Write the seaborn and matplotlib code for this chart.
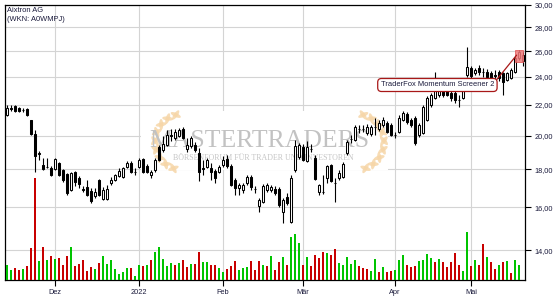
import numpy as np
import pandas as pd
import matplotlib
matplotlib.use("Agg")
import matplotlib.pyplot as plt
import seaborn as sns
from matplotlib.patches import Rectangle, Ellipse
from matplotlib.ticker import FixedLocator, NullLocator

sns.set_theme(style="white")
plt.rcParams["font.family"] = ["Liberation Sans", "DejaVu Sans"]

# ---------------- data ----------------
title_line1 = "Aixtron AG"
title_line2 = "(WKN: A0WMPJ)"
start_date, end_date = "2021-11-15", "2022-05-19"
holidays = ["2021-12-24", "2021-12-31", "2022-04-15", "2022-04-18"]
month_labels = ["Dez", "2022", "Feb", "Mär", "Apr", "Mai"]
price_ticks = [14, 16, 18, 20, 22, 24, 26, 28, 30]
signal_index = 128
signal_label = "TraderFox Momentum Screener 2"
watermark = "MASTERTRADERS"
watermark_sub = "BÖRSENFORUM FÜR TRADER UND INVESTOREN"

opens = [
    21.32, 21.80, 21.92, 21.78, 21.67, 21.72, 20.99, 20.09, 18.90, 18.25,
    18.14, 18.08, 18.03, 18.37, 17.97, 17.75, 16.89, 17.85, 17.53, 16.95,
    17.05, 16.84, 16.58, 17.42, 16.42, 16.42, 17.26, 17.42, 17.64, 17.58,
    18.14, 18.37, 17.88, 18.14, 18.60, 18.20, 17.69, 17.97, 19.30, 19.12,
    19.42, 20.03, 19.85, 19.97, 20.42, 19.18, 19.36, 19.42, 18.95, 18.10,
    18.14, 18.08, 17.91, 17.85, 18.25, 18.60, 18.20, 17.42, 17.00, 16.89,
    17.26, 17.58, 16.95, 16.07, 16.27, 16.89, 16.89, 16.95, 16.95, 15.77,
    16.52, 15.30, 17.97, 18.72, 19.30, 18.48, 19.18, 18.66, 16.78, 16.80,
    17.53, 18.25, 17.28, 17.53, 17.58, 18.95, 19.78, 19.73, 20.40, 20.42,
    20.15, 20.09, 20.55, 20.40, 20.67, 20.80, 20.67, 20.05, 20.21, 20.99,
    21.38, 20.99, 21.12, 20.03, 20.15, 20.99, 21.99, 22.48, 22.69, 23.19,
    23.04, 22.83, 22.83, 22.36, 22.48, 24.14, 24.67, 24.29, 24.67, 24.37,
    24.37, 24.30, 24.14, 24.37, 24.29, 23.77, 23.92, 24.37, 25.45, 25.20]
closes = [
    21.78, 21.75, 21.58, 21.58, 21.63, 21.32, 20.09, 18.77, 18.95, 18.03,
    18.12, 17.69, 18.60, 17.69, 17.42, 16.73, 17.80, 17.31, 17.20, 16.90,
    16.63, 16.32, 16.78, 16.63, 16.89, 16.95, 17.42, 17.69, 17.91, 18.08,
    18.37, 17.85, 17.85, 18.54, 17.85, 17.85, 17.85, 18.54, 18.54, 19.48,
    20.03, 19.97, 20.21, 20.35, 19.85, 19.42, 19.85, 19.12, 17.85, 18.05,
    18.54, 17.85, 17.53, 18.14, 18.54, 18.20, 17.15, 17.00, 17.15, 17.15,
    17.58, 17.05, 16.92, 16.37, 17.10, 17.15, 17.05, 16.73, 16.12, 16.37,
    16.22, 17.53, 19.36, 19.42, 18.54, 19.30, 19.20, 17.47, 17.15, 16.78,
    18.20, 17.37, 17.26, 17.80, 18.31, 19.60, 19.80, 20.55, 20.42, 20.44,
    20.55, 20.55, 20.52, 20.80, 20.99, 20.21, 20.03, 20.03, 21.12, 21.45,
    20.86, 20.67, 19.54, 20.67, 21.85, 22.48, 22.69, 23.26, 23.26, 22.69,
    22.69, 22.48, 22.33, 22.33, 23.04, 24.75, 24.07, 24.52, 24.37, 24.35,
    24.00, 23.77, 24.10, 23.92, 23.62, 24.29, 24.52, 25.45, 25.90, 25.69]
highs = [
    21.99, 21.99, 21.99, 21.85, 21.78, 21.78, 20.99, 20.35, 19.07, 18.66,
    18.66, 18.20, 18.66, 18.43, 18.03, 17.80, 17.85, 17.91, 17.64, 17.10,
    17.42, 16.99, 16.99, 17.47, 17.05, 17.15, 17.58, 17.75, 18.08, 18.14,
    18.48, 18.48, 18.08, 18.66, 18.66, 18.31, 17.97, 18.66, 19.42, 19.97,
    20.35, 20.42, 20.42, 20.48, 20.55, 19.85, 19.97, 19.60, 19.24, 18.54,
    18.66, 18.37, 18.03, 18.25, 18.77, 18.83, 18.31, 17.53, 17.26, 17.26,
    17.69, 17.69, 17.10, 16.47, 17.20, 17.26, 17.15, 17.10, 17.05, 16.47,
    16.73, 17.69, 19.73, 19.54, 19.48, 19.67, 19.48, 18.83, 17.20, 17.69,
    18.25, 18.31, 17.53, 17.97, 18.43, 19.73, 20.03, 20.67, 20.67, 20.67,
    20.74, 20.67, 21.12, 20.99, 21.19, 20.93, 20.80, 20.21, 21.32, 21.58,
    21.52, 21.12, 21.25, 20.80, 21.99, 22.62, 22.83, 24.37, 23.55, 23.33,
    23.19, 22.97, 22.97, 22.69, 23.19, 26.35, 24.82, 24.67, 24.90, 24.67,
    24.60, 24.45, 24.52, 24.52, 24.40, 24.40, 24.67, 25.60, 26.10, 25.95]
lows = [
    21.25, 21.58, 21.52, 21.52, 21.52, 21.25, 20.03, 17.85, 18.54, 17.97,
    18.08, 17.64, 17.97, 17.64, 17.31, 16.63, 16.84, 17.10, 16.99, 16.78,
    16.58, 16.22, 16.47, 16.58, 16.37, 16.37, 17.15, 17.37, 17.58, 17.53,
    18.08, 17.80, 17.69, 18.08, 17.80, 17.80, 17.53, 17.85, 18.48, 19.00,
    19.36, 19.67, 19.73, 19.91, 19.79, 19.00, 19.24, 19.00, 17.37, 17.69,
    18.08, 17.42, 17.26, 17.80, 18.14, 18.08, 17.10, 16.63, 16.63, 16.73,
    17.15, 16.89, 16.73, 15.77, 16.22, 16.78, 16.78, 16.63, 16.02, 15.25,
    16.12, 15.25, 17.85, 18.60, 18.48, 18.43, 19.00, 17.42, 16.63, 16.68,
    17.26, 17.31, 16.27, 17.42, 17.53, 18.83, 19.54, 19.67, 20.15, 20.21,
    20.03, 19.97, 20.03, 20.28, 20.55, 20.15, 19.97, 19.85, 20.15, 20.93,
    20.74, 20.55, 19.42, 19.91, 20.09, 20.93, 21.85, 22.40, 22.55, 22.55,
    22.62, 22.27, 22.10, 21.85, 22.41, 24.00, 23.92, 24.14, 24.14, 24.00,
    23.85, 23.60, 23.40, 23.70, 22.70, 23.70, 23.85, 24.30, 25.30, 24.80]
# relative volume (the last, current day has no volume bar)
volume = [
    15, 10, 12, 10, 11, 14, 32, 102, 19, 33,
    20, 24, 21, 22, 15, 24, 33, 14, 16, 20,
    9, 13, 11, 17, 24, 16, 20, 11, 6, 8,
    12, 12, 4, 15, 14, 15, 20, 28, 33, 21,
    14, 17, 15, 17, 20, 13, 16, 16, 28, 18,
    18, 15, 15, 12, 8, 11, 14, 19, 10, 12,
    13, 19, 10, 19, 15, 14, 24, 10, 18, 23,
    15, 43, 46, 37, 15, 23, 14, 25, 22, 28,
    27, 25, 31, 17, 15, 23, 16, 20, 14, 12,
    11, 9, 21, 8, 13, 8, 9, 10, 20, 25,
    15, 13, 14, 19, 20, 26, 22, 18, 21, 18,
    13, 18, 27, 15, 9, 48, 14, 20, 15, 36,
    23, 18, 11, 15, 18, 19, 7, 20, 15, np.nan]
volume_dir = ("ggrrgrrrgr" "grgrrrgrrr" "rrgrgggggg" "grggrgrggg" "ggrgrrgrrg"
              "grrggrrrgg" "grrrgrgrrg" "rgggrgrrrr" "grrgggggrr" "rggrgrrggg"
              "rrrggggrgr" "rrrrggrgrr" "grrgrgrggg")

# ---------------- derived ----------------
dates = pd.bdate_range(start_date, end_date)
dates = dates[~dates.isin(pd.to_datetime(holidays))]
n = len(dates)
idx = np.arange(n)
o, c, h, l = map(np.asarray, (opens, closes, highs, lows))
month_pos = [i for i in range(1, n) if dates[i].month != dates[i - 1].month]

TXT = "#1b1b3c"
W, H = 555, 300
fig = plt.figure(figsize=(W / 100, H / 100), dpi=100)
rect = [5 / W, 20 / H, 520 / W, 275 / H]
ax = fig.add_axes(rect, zorder=1)
axv = fig.add_axes(rect, zorder=2)
axv.patch.set_alpha(0)

# price axis
ax.set_facecolor("white")
ax.set_yscale("log")
ax.set_ylim(12.77, 30)
ax.set_xlim(-0.5, n - 0.5)
ax.yaxis.set_major_locator(FixedLocator(price_ticks))
ax.yaxis.set_minor_locator(NullLocator())
ax.yaxis.set_ticklabels([f"{t:.2f}".replace(".", ",") for t in price_ticks])
ax.yaxis.tick_right()
ax.set_xticks(month_pos)
ax.set_xticklabels(month_labels)
ax.tick_params(axis="y", which="major", direction="out", length=4, width=0.8,
               color="black", pad=3, labelsize=5.3, labelcolor=TXT,
               right=True, left=False, labelright=True, labelleft=False)
ax.tick_params(axis="x", direction="out", length=4, width=0.8, color="black",
               pad=2.5, labelsize=5.3, labelcolor=TXT, bottom=True)
ax.grid(True, color="#d4d4d4", lw=0.8)
ax.set_axisbelow(True)
for s in ax.spines.values():
    s.set_visible(True)
    s.set_color("black")
    s.set_linewidth(0.9)

# watermark (opaque box hides grid)
ax.add_patch(Rectangle((0.262, 0.40), 0.475, 0.215, transform=ax.transAxes,
                       facecolor="white", edgecolor="none", zorder=1.2))
ax.text(0.49, 0.505, watermark, transform=ax.transAxes, ha="center", va="center",
        fontsize=18.5, color="#c2c2c2", family=["Liberation Serif", "DejaVu Serif"], zorder=1.5)
ax.text(0.497, 0.443, watermark_sub, transform=ax.transAxes, ha="center", va="center",
        fontsize=5.7, color="#c4c4c4", family=["Liberation Serif", "DejaVu Serif"], zorder=1.5)


def laurel(cx, cy, mirror):
    sgn = -1 if mirror else 1
    for th in np.linspace(105, 250, 9):
        t = np.deg2rad(th)
        px = cx + sgn * 0.28 * np.cos(t)
        py = cy + 0.28 * np.sin(t)
        tang = th + 90
        for off in (-40, 40):
            ang = tang + off
            if mirror:
                ang = 180 - ang
            ax.add_patch(Ellipse((px, py), 0.11, 0.04, angle=ang,
                                 transform=fig.dpi_scale_trans, facecolor="#f6d6a8",
                                 edgecolor="none", alpha=0.85, zorder=1.4))


laurel(1.83, 1.58, False)
laurel(3.56, 1.58, True)

# candles
up = c >= o
ax.vlines(idx, l, h, color="black", lw=0.8, zorder=3)
ax.bar(idx, np.abs(c - o), bottom=np.minimum(o, c), width=0.6,
       color=np.where(up, "white", "black"), edgecolor="black", linewidth=0.75, zorder=4)

# volume (seaborn)
vdf = pd.DataFrame({"i": idx[:len(volume_dir)], "vol": volume[:len(volume_dir)],
                    "dir": ["up" if ch == "g" else "down" for ch in volume_dir]}).dropna()
sns.barplot(data=vdf, x="i", y="vol", hue="dir", palette={"up": "#00c400", "down": "#c80000"},
            native_scale=True, dodge=False, width=0.68, saturation=1, legend=False,
            edgecolor="none", ax=axv)
axv.set_xlim(-0.5, n - 0.5)
axv.set_ylim(0, 275)
axv.axis("off")

# signal marker + annotation
s_i = signal_index
ax.add_patch(Rectangle((s_i - 1, l[s_i] * 0.993), 2, h[s_i] - l[s_i] * 0.993,
                       facecolor="#f07a7a", edgecolor="#e05050", lw=0.6, alpha=0.85, zorder=5))
ax.annotate(signal_label, xy=(s_i - 0.6, (o[s_i] + c[s_i]) / 2), xytext=(107.6, 23.4),
            textcoords="data", ha="center", va="center", fontsize=5.4, color=TXT,
            bbox=dict(boxstyle="round,pad=0.4,rounding_size=0.5", fc="white", ec="#a81818", lw=0.9),
            arrowprops=dict(arrowstyle="-", color="#a81818", lw=0.9, shrinkA=0, shrinkB=0,
                            relpos=(1.0, 0.8)),
            zorder=6)

fig.text(7 / W, 1 - 7 / H, title_line1, ha="left", va="top", fontsize=5.4, color=TXT)
fig.text(7 / W, 1 - 16 / H, title_line2, ha="left", va="top", fontsize=5.4, color=TXT)

fig.savefig("out.png", dpi=100)
